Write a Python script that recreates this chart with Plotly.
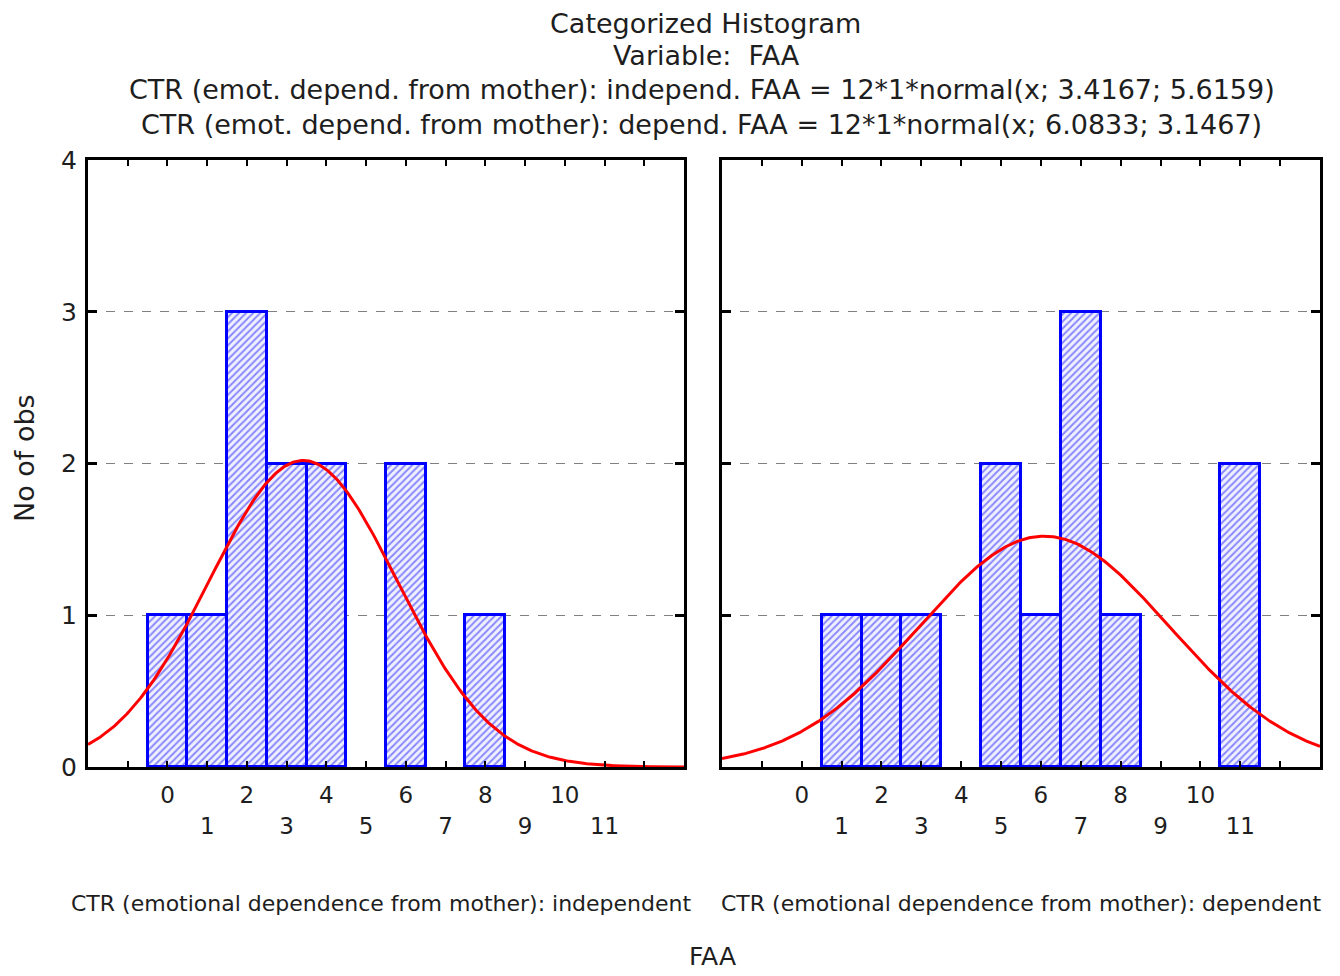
import numpy as np
import plotly.graph_objects as go

# ---- data ----
bins = list(range(12))
independent_counts = [1, 1, 3, 2, 2, 0, 2, 0, 1, 0, 0, 0]
dependent_counts = [0, 1, 1, 1, 0, 2, 1, 3, 1, 0, 0, 2]
n_obs = 12
independent_mean, independent_sd = 3.4167, 2.37
dependent_mean, dependent_sd = 6.0833, 3.1467
tick_labels = [str(b) for b in bins]
y_ticks = [0, 1, 2, 3, 4]

W, H = 1340, 976
FONT = "DejaVu Sans"
BLUE = "#0000ff"
TXT = "#1e1e1e"


def px(x):
    return x / W


def py(y):
    return 1 - y / H


def normal_curve(mean, sd, xs):
    return n_obs * 1 * np.exp(-0.5 * ((xs - mean) / sd) ** 2) / (sd * np.sqrt(2 * np.pi))


xs = np.linspace(-2, 13, 400)

fig = go.Figure()

for counts, mean, sd, xa, ya in [
    (independent_counts, independent_mean, independent_sd, "x", "y"),
    (dependent_counts, dependent_mean, dependent_sd, "x2", "y2"),
]:
    bx = [b for b, c in zip(bins, counts) if c > 0]
    by = [c for c in counts if c > 0]
    fig.add_trace(go.Bar(
        x=bx, y=by, width=1, xaxis=xa, yaxis=ya,
        marker=dict(color="white",
                    line=dict(color=BLUE, width=3),
                    pattern=dict(shape="/", fgcolor="#2020ff", bgcolor="#f0f0ff",
                                 size=5, solidity=0.4)),
        showlegend=False, hoverinfo="skip"))
    fig.add_trace(go.Scatter(
        x=xs, y=normal_curve(mean, sd, xs), xaxis=xa, yaxis=ya,
        mode="lines", line=dict(color="#ff0000", width=3),
        showlegend=False, hoverinfo="skip"))

# odd labels on a second row via overlay axes
fig.add_trace(go.Scatter(x=[None], y=[None], xaxis="x3", yaxis="y", showlegend=False))
fig.add_trace(go.Scatter(x=[None], y=[None], xaxis="x4", yaxis="y2", showlegend=False))

tick_all = list(range(-1, 13))
even_text = [tick_labels[t] if (0 <= t <= 11 and t % 2 == 0) else "" for t in tick_all]
odd_vals = [b for b in bins if b % 2 == 1]
odd_text = [tick_labels[b] for b in odd_vals]

ydom = [py(767), py(160)]
dom1 = [px(88), px(684)]
dom2 = [px(722), px(1320)]

tickfont_x = dict(family=FONT, size=23, color=TXT)
xcommon = dict(range=[-2, 13], showline=True, linewidth=3, linecolor="black", mirror="ticks",
               ticks="inside", ticklen=6, tickwidth=2, tickcolor="black",
               tickvals=tick_all, ticktext=even_text, showgrid=False, zeroline=False,
               tickfont=tickfont_x, ticklabelstandoff=5, automargin=False)
xodd = dict(range=[-2, 13], showline=False, ticks="", tickvals=odd_vals, ticktext=odd_text,
            showgrid=False, zeroline=False, side="bottom",
            tickfont=tickfont_x, ticklabelstandoff=43, automargin=False)
ycommon = dict(range=[0, 4], domain=ydom, showline=True, linewidth=3, linecolor="black",
               mirror="ticks", ticks="inside", ticklen=9, tickwidth=3, tickcolor="black",
               tickvals=y_ticks, showgrid=True, gridcolor="#808080", griddash="dash",
               gridwidth=1, zeroline=False, automargin=False,
               tickfont=dict(family=FONT, size=25, color=TXT))

fig.update_layout(
    width=W, height=H, margin=dict(l=0, r=0, t=0, b=0, pad=0, autoexpand=False),
    paper_bgcolor="white", plot_bgcolor="white", bargap=0,
    xaxis=dict(domain=dom1, anchor="y", **xcommon),
    xaxis2=dict(domain=dom2, anchor="y2", **xcommon),
    xaxis3=dict(overlaying="x", anchor="y", **xodd),
    xaxis4=dict(overlaying="x2", anchor="y2", **xodd),
    yaxis=dict(anchor="x", showticklabels=True, ticklabelstandoff=3, **ycommon),
    yaxis2=dict(anchor="x2", showticklabels=False, **ycommon),
)

ann_font = dict(family=FONT, size=27, color=TXT)
annotations = [
    ("Categorized Histogram", 705, 23),
    ("Variable:  FAA", 706, 56),
    ("CTR (emot. depend. from mother): independ. FAA = 12*1*normal(x; 3.4167; 5.6159)", 702, 90),
    ("CTR (emot. depend. from mother): depend. FAA = 12*1*normal(x; 6.0833; 3.1467)", 701, 125),
]
for text, x, y in annotations:
    fig.add_annotation(text=text, x=px(x), y=py(y), xref="paper", yref="paper",
                       showarrow=False, xanchor="center", yanchor="middle", font=ann_font)

sub_font = dict(family=FONT, size=22, color=TXT)
fig.add_annotation(text="CTR (emotional dependence from mother): independent", x=px(381), y=py(903),
                   xref="paper", yref="paper", showarrow=False, xanchor="center", yanchor="middle",
                   font=sub_font)
fig.add_annotation(text="CTR (emotional dependence from mother): dependent", x=px(1021), y=py(903),
                   xref="paper", yref="paper", showarrow=False, xanchor="center", yanchor="middle",
                   font=sub_font)
fig.add_annotation(text="FAA", x=px(712), y=py(956), xref="paper", yref="paper", showarrow=False,
                   xanchor="center", yanchor="middle", font=dict(family=FONT, size=25, color=TXT))
fig.add_annotation(text="No of obs", x=px(25), y=py(458), xref="paper", yref="paper", showarrow=False,
                   xanchor="center", yanchor="middle", textangle=-90,
                   font=dict(family=FONT, size=27, color=TXT))

fig.write_html("out.html")
